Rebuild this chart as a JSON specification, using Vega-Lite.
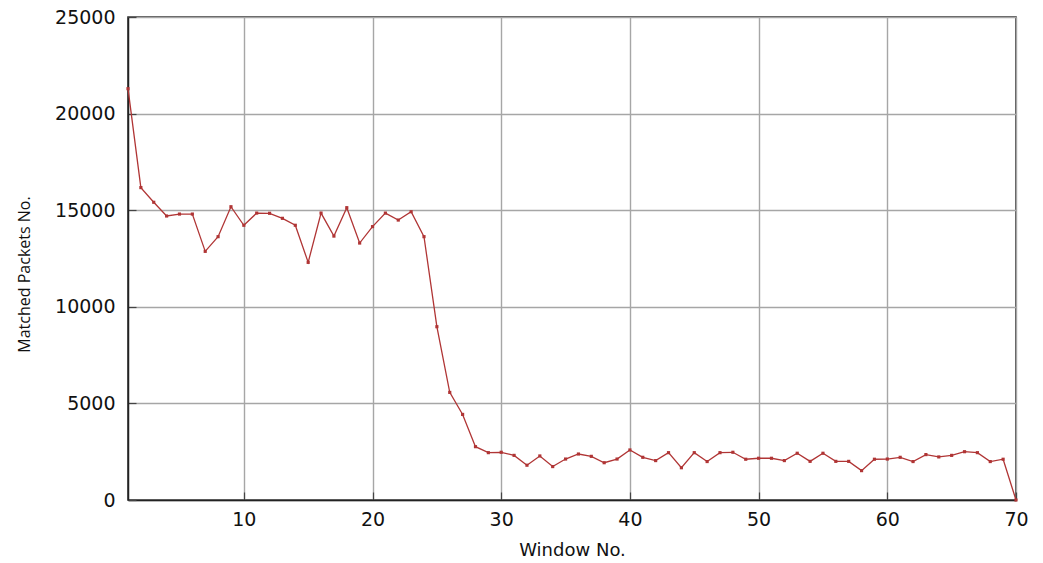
{
  "$schema": "https://vega.github.io/schema/vega-lite/v6.json",
  "autosize": "none",
  "width": 888,
  "height": 483,
  "padding": {"left": 128, "top": 17, "right": 27, "bottom": 63},
  "background": "white",
  "config": {
    "font": "DejaVu Sans",
    "view": {"stroke": "#222222", "strokeWidth": 1.5},
    "axis": {
      "labelFont": "DejaVu Sans",
      "titleFont": "DejaVu Sans",
      "labelFontSize": 19,
      "titleFontSize": 19,
      "labelColor": "#111111",
      "titleColor": "#111111",
      "titleFontWeight": "normal",
      "labelFlush": false,
      "labelOverlap": false,
      "gridColor": "#a6a6a6",
      "gridWidth": 1.4,
      "gridOpacity": 1,
      "domainColor": "#222222",
      "domainWidth": 1.5,
      "tickColor": "#444444",
      "tickWidth": 1.2,
      "tickSize": -8
    }
  },
  "data": {
    "values": [
      {"w": 1, "n": 21290}, {"w": 2, "n": 16170}, {"w": 3, "n": 15410}, {"w": 4, "n": 14700},
      {"w": 5, "n": 14800}, {"w": 6, "n": 14800}, {"w": 7, "n": 12870}, {"w": 8, "n": 13630},
      {"w": 9, "n": 15180}, {"w": 10, "n": 14220}, {"w": 11, "n": 14850}, {"w": 12, "n": 14840},
      {"w": 13, "n": 14580}, {"w": 14, "n": 14220}, {"w": 15, "n": 12300}, {"w": 16, "n": 14850},
      {"w": 17, "n": 13660}, {"w": 18, "n": 15130}, {"w": 19, "n": 13300}, {"w": 20, "n": 14150},
      {"w": 21, "n": 14850}, {"w": 22, "n": 14490}, {"w": 23, "n": 14920}, {"w": 24, "n": 13630},
      {"w": 25, "n": 8970}, {"w": 26, "n": 5570}, {"w": 27, "n": 4430}, {"w": 28, "n": 2760},
      {"w": 29, "n": 2450}, {"w": 30, "n": 2470}, {"w": 31, "n": 2310}, {"w": 32, "n": 1800},
      {"w": 33, "n": 2280}, {"w": 34, "n": 1730}, {"w": 35, "n": 2120}, {"w": 36, "n": 2380},
      {"w": 37, "n": 2260}, {"w": 38, "n": 1930}, {"w": 39, "n": 2120}, {"w": 40, "n": 2590},
      {"w": 41, "n": 2210}, {"w": 42, "n": 2040}, {"w": 43, "n": 2450}, {"w": 44, "n": 1670},
      {"w": 45, "n": 2450}, {"w": 46, "n": 1990}, {"w": 47, "n": 2450}, {"w": 48, "n": 2470},
      {"w": 49, "n": 2110}, {"w": 50, "n": 2160}, {"w": 51, "n": 2160}, {"w": 52, "n": 2040},
      {"w": 53, "n": 2420}, {"w": 54, "n": 2000}, {"w": 55, "n": 2420}, {"w": 56, "n": 2000},
      {"w": 57, "n": 2000}, {"w": 58, "n": 1520}, {"w": 59, "n": 2110}, {"w": 60, "n": 2120},
      {"w": 61, "n": 2210}, {"w": 62, "n": 1990}, {"w": 63, "n": 2350}, {"w": 64, "n": 2230},
      {"w": 65, "n": 2310}, {"w": 66, "n": 2500}, {"w": 67, "n": 2450}, {"w": 68, "n": 1990},
      {"w": 69, "n": 2110}, {"w": 70, "n": 0}
    ]
  },
  "layer": [
    {
      "mark": {"type": "line", "color": "#b03535", "strokeWidth": 1.3, "clip": false},
      "encoding": {
        "x": {
          "field": "w", "type": "quantitative",
          "scale": {"domain": [1, 70], "nice": false, "zero": false},
          "axis": {"title": "Window No.", "titleFontSize": 18, "values": [10, 20, 30, 40, 50, 60, 70], "labelPadding": 18, "titlePadding": 12, "format": "d"}
        },
        "y": {
          "field": "n", "type": "quantitative",
          "scale": {"domain": [0, 25000], "nice": false},
          "axis": {"title": "Matched Packets No.", "titleFont": "Open Sans", "titleFontSize": 16, "titleY": 257, "values": [0, 5000, 10000, 15000, 20000, 25000], "labelPadding": 21, "titlePadding": 22, "format": "d"}
        }
      }
    },
    {
      "mark": {"type": "square", "color": "#b03535", "size": 10, "opacity": 1, "clip": false},
      "encoding": {
        "x": {"field": "w", "type": "quantitative"},
        "y": {"field": "n", "type": "quantitative"}
      }
    }
  ]
}
